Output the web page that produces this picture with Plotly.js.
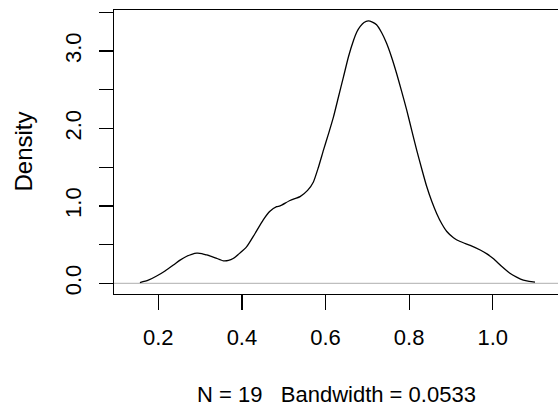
<!DOCTYPE html>
<html>
<head>
<meta charset="utf-8">
<script src="https://cdn.plot.ly/plotly-3.0.1.min.js"></script>
<style>html,body{margin:0;padding:0;background:#fff;}#chart{width:558px;height:414px;}</style>
</head>
<body>
<div id="chart"></div>
<script>
// Density estimate
const xValues = [0.156, 0.176, 0.196, 0.216, 0.236, 0.252, 0.268, 0.280, 0.292, 0.304, 0.316, 0.336, 0.356, 0.368, 0.379, 0.395, 0.411, 0.431, 0.451, 0.467, 0.483, 0.491, 0.515, 0.539, 0.557, 0.571, 0.583, 0.595, 0.607, 0.619, 0.631, 0.643, 0.655, 0.667, 0.675, 0.683, 0.692, 0.702, 0.712, 0.722, 0.734, 0.746, 0.758, 0.770, 0.782, 0.794, 0.806, 0.818, 0.830, 0.842, 0.854, 0.866, 0.878, 0.890, 0.906, 0.922, 0.946, 0.970, 0.986, 1.001, 1.021, 1.041, 1.057, 1.073, 1.087, 1.101];
const densityValues = [0.01, 0.04, 0.094, 0.16, 0.236, 0.30, 0.35, 0.375, 0.39, 0.385, 0.366, 0.33, 0.29, 0.295, 0.32, 0.39, 0.47, 0.64, 0.82, 0.93, 0.99, 1.0, 1.07, 1.12, 1.2, 1.31, 1.5, 1.72, 1.93, 2.15, 2.41, 2.67, 2.93, 3.14, 3.25, 3.32, 3.37, 3.39, 3.375, 3.34, 3.24, 3.10, 2.92, 2.71, 2.48, 2.24, 1.98, 1.72, 1.48, 1.25, 1.06, 0.90, 0.77, 0.67, 0.59, 0.54, 0.49, 0.43, 0.38, 0.32, 0.22, 0.13, 0.08, 0.04, 0.024, 0.015];
const xTicks = [0.2, 0.4, 0.6, 0.8, 1.0];
const xTickLabels = ["0.2", "0.4", "0.6", "0.8", "1.0"];
const yTicks = [0, 0.5, 1, 1.5, 2, 2.5, 3, 3.5];
const yTickLabels = ["0.0", "", "1.0", "", "2.0", "", "3.0", ""];
const yLabel = "Density";
const subLabel = "N = 19   Bandwidth = 0.0533";

const font = "Liberation Sans, Arial, sans-serif";
const trace = {
  x: xValues, y: densityValues, type: "scatter", mode: "lines",
  line: {color: "#000", width: 1.3, shape: "spline", smoothing: 0.6},
  hoverinfo: "skip"
};
const layout = {
  width: 558, height: 414,
  margin: {l: 114, r: 0, t: 10, b: 120},
  paper_bgcolor: "#fff", plot_bgcolor: "#fff",
  showlegend: false,
  font: {family: font, size: 22, color: "#000"},
  xaxis: {
    range: [0.094, 1.156], tickvals: xTicks, ticktext: xTickLabels,
    ticks: "outside", ticklen: 15, tickwidth: 1.3, tickcolor: "#000",
    showline: true, linecolor: "#000", linewidth: 1.3, mirror: true,
    showgrid: false, zeroline: false, ticklabelstandoff: 8,
    tickfont: {family: font, size: 22, color: "#000"}
  },
  yaxis: {
    range: [-0.138, 3.531], tickvals: yTicks, ticktext: yTickLabels,
    ticks: "outside", ticklen: 14, tickwidth: 1.3, tickcolor: "#000",
    showline: true, linecolor: "#000", linewidth: 1.3,
    showgrid: false, zeroline: false, tickangle: -90, ticklabelstandoff: 9,
    tickfont: {family: font, size: 22, color: "#000"}
  },
  shapes: [{type: "line", xref: "paper", yref: "y", x0: 0, x1: 1, y0: 0, y1: 0,
    line: {color: "#bebebe", width: 1.3}, layer: "below"}],
  annotations: [
    {text: yLabel, xref: "paper", yref: "paper", x: -0.206, y: 0.5, textangle: -90,
     showarrow: false, xanchor: "center", yanchor: "middle", font: {family: font, size: 24, color: "#000"}},
    {text: subLabel, xref: "paper", yref: "paper", x: 0.5, y: -0.355,
     showarrow: false, xanchor: "center", yanchor: "middle", font: {family: font, size: 22, color: "#000"}}
  ]
};
Plotly.newPlot("chart", [trace], layout, {staticPlot: true, displayModeBar: false});
</script>
</body>
</html>
